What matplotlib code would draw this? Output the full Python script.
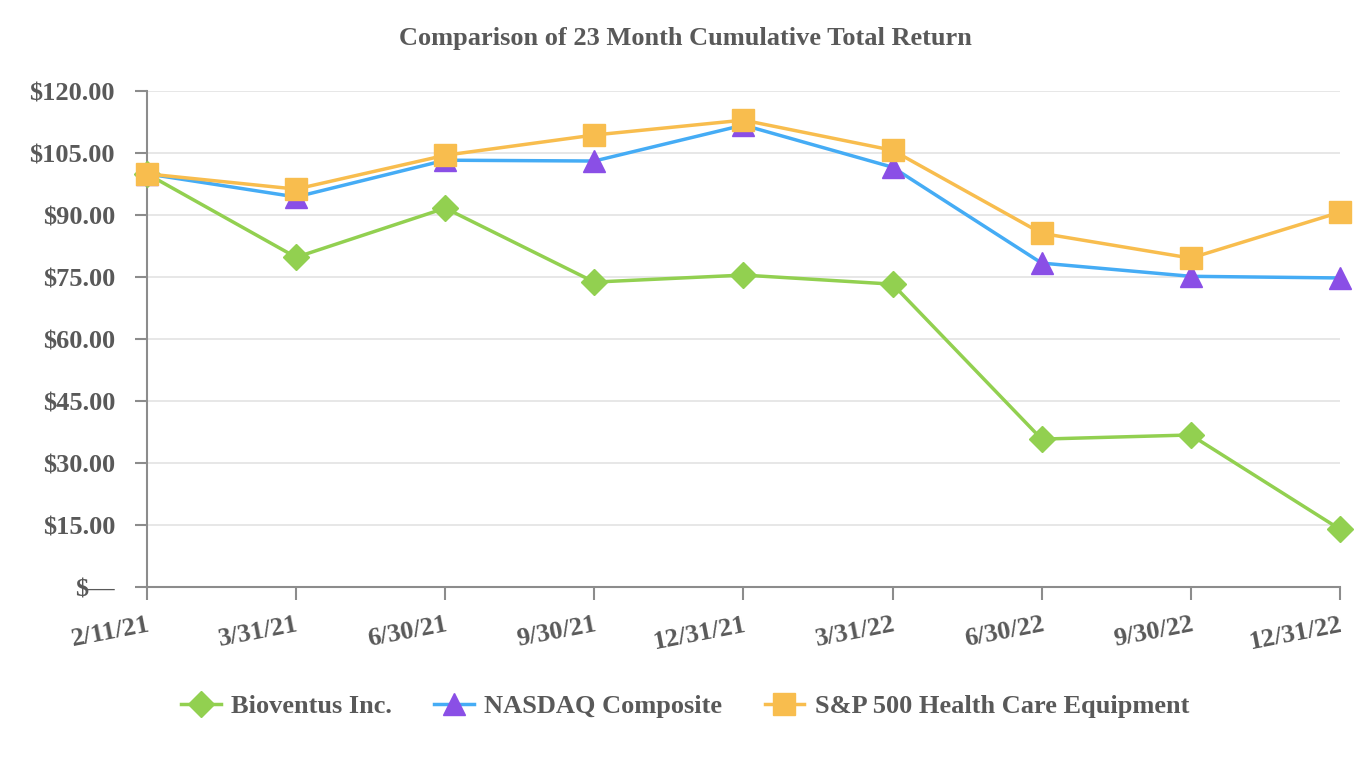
import matplotlib.pyplot as plt
from matplotlib.ticker import FuncFormatter

dates = ["2/11/21", "3/31/21", "6/30/21", "9/30/21", "12/31/21",
         "3/31/22", "6/30/22", "9/30/22", "12/31/22"]
bioventus = [100.0, 79.8, 91.7, 73.8, 75.5, 73.3, 35.8, 36.8, 14.0]
nasdaq = [100.0, 94.4, 103.3, 103.1, 111.8, 101.6, 78.4, 75.2, 74.8]
sp_hce = [100.0, 96.3, 104.5, 109.4, 113.0, 105.7, 85.6, 79.6, 90.7]
yticks = [0, 15, 30, 45, 60, 75, 90, 105, 120]

plt.rcParams['font.family'] = ['Liberation Serif', 'DejaVu Serif']
plt.rcParams['font.weight'] = 'bold'
txt = '#595959'

fig = plt.figure(figsize=(13.7, 7.6), dpi=100)
ax = fig.add_axes([0.1073, 0.2276, 0.8707, 0.6524])

x = range(len(dates))
ax.plot(x, bioventus, color='#92d050', lw=2.5, marker='D', ms=13,
        mfc='#92d050', mec='#92d050', label='Bioventus Inc.', zorder=3)
ax.plot(x, nasdaq, color='#45acf5', lw=2.5, marker='^', ms=16,
        mfc='#8a4fe6', mec='#8a4fe6', label='NASDAQ Composite', zorder=4)
ax.plot(x, sp_hce, color='#f8bd4e', lw=2.5, marker='s', ms=16,
        mfc='#f8bd4e', mec='#f8bd4e', label='S&P 500 Health Care Equipment', zorder=5)

ax.set_xlim(0, len(dates) - 1)
ax.set_ylim(0, 120)
ax.set_yticks(yticks)
ax.yaxis.set_major_formatter(FuncFormatter(lambda v, p: '$\u2014' if v == 0 else f'${v:.2f}'))
ax.set_xticks(list(x))
ax.set_xticklabels(dates, rotation=11, ha='right', rotation_mode='anchor')

ax.grid(axis='y', color='#e3e3e3', lw=1.2)
ax.set_axisbelow(True)
for s in ['top', 'right']:
    ax.spines[s].set_visible(False)
for s in ['left', 'bottom']:
    ax.spines[s].set_color('#8c8c8c')
    ax.spines[s].set_linewidth(1.5)
ax.tick_params(axis='y', length=9, width=1.5, color='#8c8c8c', labelsize=19,
               labelcolor=txt, pad=14)
ax.tick_params(axis='x', length=9, width=1.5, color='#8c8c8c', labelsize=19,
               labelcolor=txt, pad=10)
for ln in ax.lines:
    ln.set_clip_on(False)

fig.suptitle('Comparison of 23 Month Cumulative Total Return', y=0.965,
             fontsize=19, fontweight='bold', color=txt)

fig.legend(loc='center', bbox_to_anchor=(0.5, 0.071), ncol=3, frameon=False,
           fontsize=19, labelcolor=txt, handlelength=1.5, columnspacing=1.6,
           handletextpad=0.4)

fig.savefig('out.png', dpi=100)
